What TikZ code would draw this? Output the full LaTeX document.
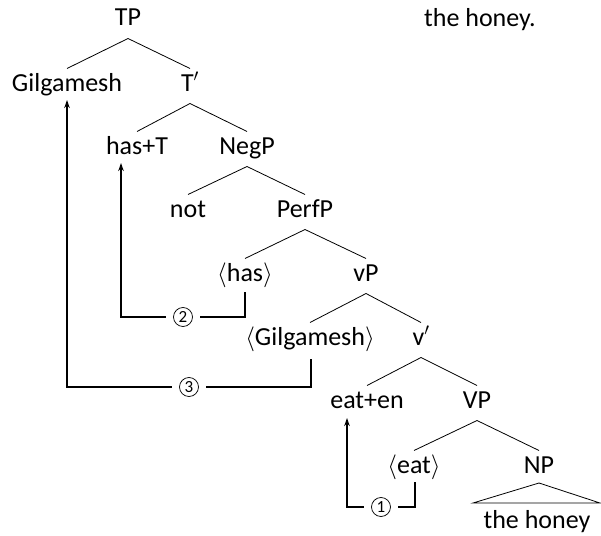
\documentclass[tikz,border=0pt]{standalone}
\usepackage{fontspec}
\setmainfont{Carlito}
\usetikzlibrary{arrows.meta}
\tikzset{
  tn/.style={anchor=base, inner sep=0pt, font=\fontsize{26}{30}\selectfont},
  edge/.style={line width=0.8pt},
  mv/.style={line width=1.5pt, -{Stealth[length=8pt,width=5.5pt]}},
  num/.style={fill=white, inner sep=0pt, minimum width=34pt, minimum height=21pt, font=\fontsize{17}{19}\selectfont},
  ring/.style={line width=0.75pt},
}
\begin{document}
\begin{tikzpicture}[x=1pt,y=-1pt]
\useasboundingbox (0,0) rectangle (601,535);
\node[tn] (TP) at (128,26) {TP};
\node[tn] (top) at (480,27) {the honey.};
\node[tn] (Gil) at (67,91) {Gilgamesh};
\node[tn] (Tb) at (190,91) {T$'$};
\node[tn] (hasT) at (137,154) {has+T};
\node[tn] (NegP) at (247,154) {NegP};
\node[tn] (not) at (188,217) {not};
\node[tn] (PerfP) at (305,217) {PerfP};
\node[tn] (hasr) at (245,281) {$\langle$has$\rangle$};
\node[tn] (vP) at (366,281) {vP};
\node[tn] (Gilr) at (310,345) {$\langle$Gilgamesh$\rangle$};
\node[tn] (vb) at (421,345) {v$'$};
\node[tn] (eaten) at (367,408) {eat+en};
\node[tn] (VP) at (477,408) {VP};
\node[tn] (eatr) at (414,473) {$\langle$eat$\rangle$};
\node[tn] (NP) at (539,473) {NP};
\node[tn] (honey) at (537,528) {the honey};
% tree edges
\foreach \p/\c in {TP/Gil, TP/Tb, Tb/hasT, Tb/NegP, NegP/not, NegP/PerfP, PerfP/hasr, PerfP/vP, vP/Gilr, vP/vb, vb/eaten, vb/VP, VP/eatr, VP/NP}
  \draw[edge] ([yshift=-12.5pt]\p.base) -- ([yshift=22.5pt]\c.base);
\draw[edge] ([yshift=-10pt]NP.base) -- ([xshift=-64pt,yshift=25pt]honey.base) -- ([xshift=63pt,yshift=25pt]honey.base) -- cycle;
% movement
\draw[mv] ([yshift=-11pt]hasr.base) -- ([yshift=-36pt]hasr.base) -| node[num,pos=0.25] (c2) {2} ([xshift=-16pt,yshift=-9pt]hasT.base);
\draw[mv] ([xshift=1pt,yshift=-14pt]Gilr.base) -- ([xshift=1pt,yshift=-42pt]Gilr.base) -| node[num,pos=0.25] (c3) {3} ([yshift=-9pt]Gil.base);
\draw[mv] ([xshift=1pt,yshift=-9pt]eatr.base) -- ([xshift=1pt,yshift=-34pt]eatr.base) -| node[num,pos=0.25] (c1) {1} ([xshift=-20pt,yshift=-10pt]eaten.base);
\foreach \c in {c1,c2,c3} \draw[ring] (\c) circle (9.5pt);
\end{tikzpicture}
\end{document}
